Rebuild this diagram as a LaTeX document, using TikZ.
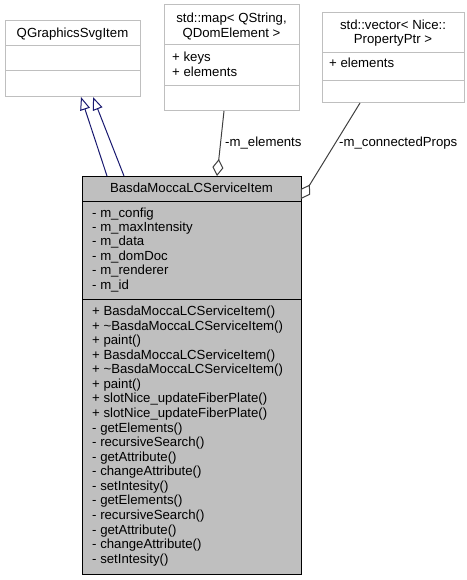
\documentclass[tikz,border=0pt]{standalone}
\usepackage{fontspec}
\setmainfont{Liberation Sans}
\usetikzlibrary{arrows.meta,calc}
\definecolor{boxgray}{HTML}{BFBFBF}
\definecolor{edgegray}{HTML}{404040}
\definecolor{navyblue}{HTML}{191970}
\newcommand{\dfs}{\fontsize{13.2}{14.5}\selectfont}
\begin{document}
\begin{tikzpicture}[x=1pt,y=-1pt,
  cls/.style={draw=boxgray, fill=white, line width=1pt, inner sep=0pt, outer sep=0pt},
  mainbox/.style={draw=black, fill=boxgray, line width=1pt, inner sep=0pt, outer sep=0pt},
  sepline/.style={draw=boxgray, line width=1pt},
  mainsep/.style={draw=black, line width=1pt},
  txt/.style={inner sep=0pt, anchor=base west, font=\dfs},
  ctxt/.style={inner sep=0pt, anchor=base, font=\dfs},
  inherit/.style={draw=navyblue, line width=1pt, -{Triangle[open, length=13pt, width=10pt]}},
  aggr/.style={draw=edgegray, line width=1pt, {Diamond[length=17pt, width=11pt, fill=white]}-}
]
\useasboundingbox (0,0) rectangle (466,580);

% QGraphicsSvgItem
\node[cls, minimum width=135pt, minimum height=76pt] (qg) at (72.5,59) {};
\draw[sepline] ($(qg.north west)+(0,25)$) -- ($(qg.north east)+(0,25)$);
\draw[sepline] ($(qg.north west)+(0,50)$) -- ($(qg.north east)+(0,50)$);
\node[ctxt] (qgname) at (72.5,38) {QGraphicsSvgItem};

% std::map
\node[cls, minimum width=135pt, minimum height=106pt] (map) at (231.5,58) {};
\draw[sepline] ($(map.north west)+(0,40)$) -- ($(map.north east)+(0,40)$);
\draw[sepline] ($(map.north west)+(0,81)$) -- ($(map.north east)+(0,81)$);
\node[ctxt] (mapn1) at (231.5,23) {std::map< QString,};
\node[ctxt] (mapn2) at (231.5,37.5) {QDomElement >};
\node[txt] (mapa1) at (172,62) {+ keys};
\node[txt] (mapa2) at (172,76.5) {+ elements};

% std::vector
\node[cls, minimum width=142pt, minimum height=90pt] (vec) at (393,58) {};
\draw[sepline] ($(vec.north west)+(0,40)$) -- ($(vec.north east)+(0,40)$);
\draw[sepline] ($(vec.north west)+(0,68)$) -- ($(vec.north east)+(0,68)$);
\node[ctxt] (vecn1) at (393,29.5) {std::vector< Nice::};
\node[ctxt] (vecn2) at (393,44) {PropertyPtr >};
\node[txt] (veca1) at (329,68) {+ elements};

% main class
\node[mainbox, minimum width=219pt, minimum height=398pt] (main) at (191.5,375) {};
\draw[mainsep] ($(main.north west)+(0,25)$) -- ($(main.north east)+(0,25)$);
\draw[mainsep] ($(main.north west)+(0,123)$) -- ($(main.north east)+(0,123)$);
\node[ctxt] (mainname) at (191.5,192) {BasdaMoccaLCServiceItem};

\foreach \t [count=\i from 0] in {m\_config, m\_maxIntensity, m\_data, m\_domDoc, m\_renderer, m\_id}
  \node[txt] (attr\i) at (92,{217+14.4*\i}) {- \t};

\foreach \t [count=\i from 0] in {+ BasdaMoccaLCServiceItem(), + \textasciitilde BasdaMoccaLCServiceItem(), + paint(), + BasdaMoccaLCServiceItem(), + \textasciitilde BasdaMoccaLCServiceItem(), + paint(), + slotNice\_updateFiberPlate(), + slotNice\_updateFiberPlate(), - getElements(), - recursiveSearch(), - getAttribute(), - changeAttribute(), - setIntesity(), - getElements(), - recursiveSearch(), - getAttribute(), - changeAttribute(), - setIntesity()}
  \node[txt] (meth\i) at (92,{315.5+14.57*\i}) {\t};

% connector end points
\coordinate (i1s) at ($(main.north west)+(25,0)$);
\coordinate (i2s) at ($(main.north west)+(42,0)$);
\coordinate (i1t) at ($(qg.south west)+(76,0)$);
\coordinate (i2t) at ($(qg.south west)+(88,0)$);
\coordinate (e1s) at ($(main.north west)+(135,0)$);
\coordinate (e1t) at ($(map.south west)+(60,0)$);
\coordinate (e2s) at ($(main.north east)+(0,23)$);
\coordinate (e2t) at ($(vec.south west)+(38,0)$);

\draw[inherit] (i1s) -- (i1t);
\draw[inherit] (i2s) -- (i2t);
\draw[aggr] (e1s) -- (e1t);
\draw[aggr] (e2s) -- (e2t);

\node[txt] (lab1) at (225,147) {-m\_elements};
\node[txt] (lab2) at (339,147) {-m\_connectedProps};
\end{tikzpicture}
\end{document}
